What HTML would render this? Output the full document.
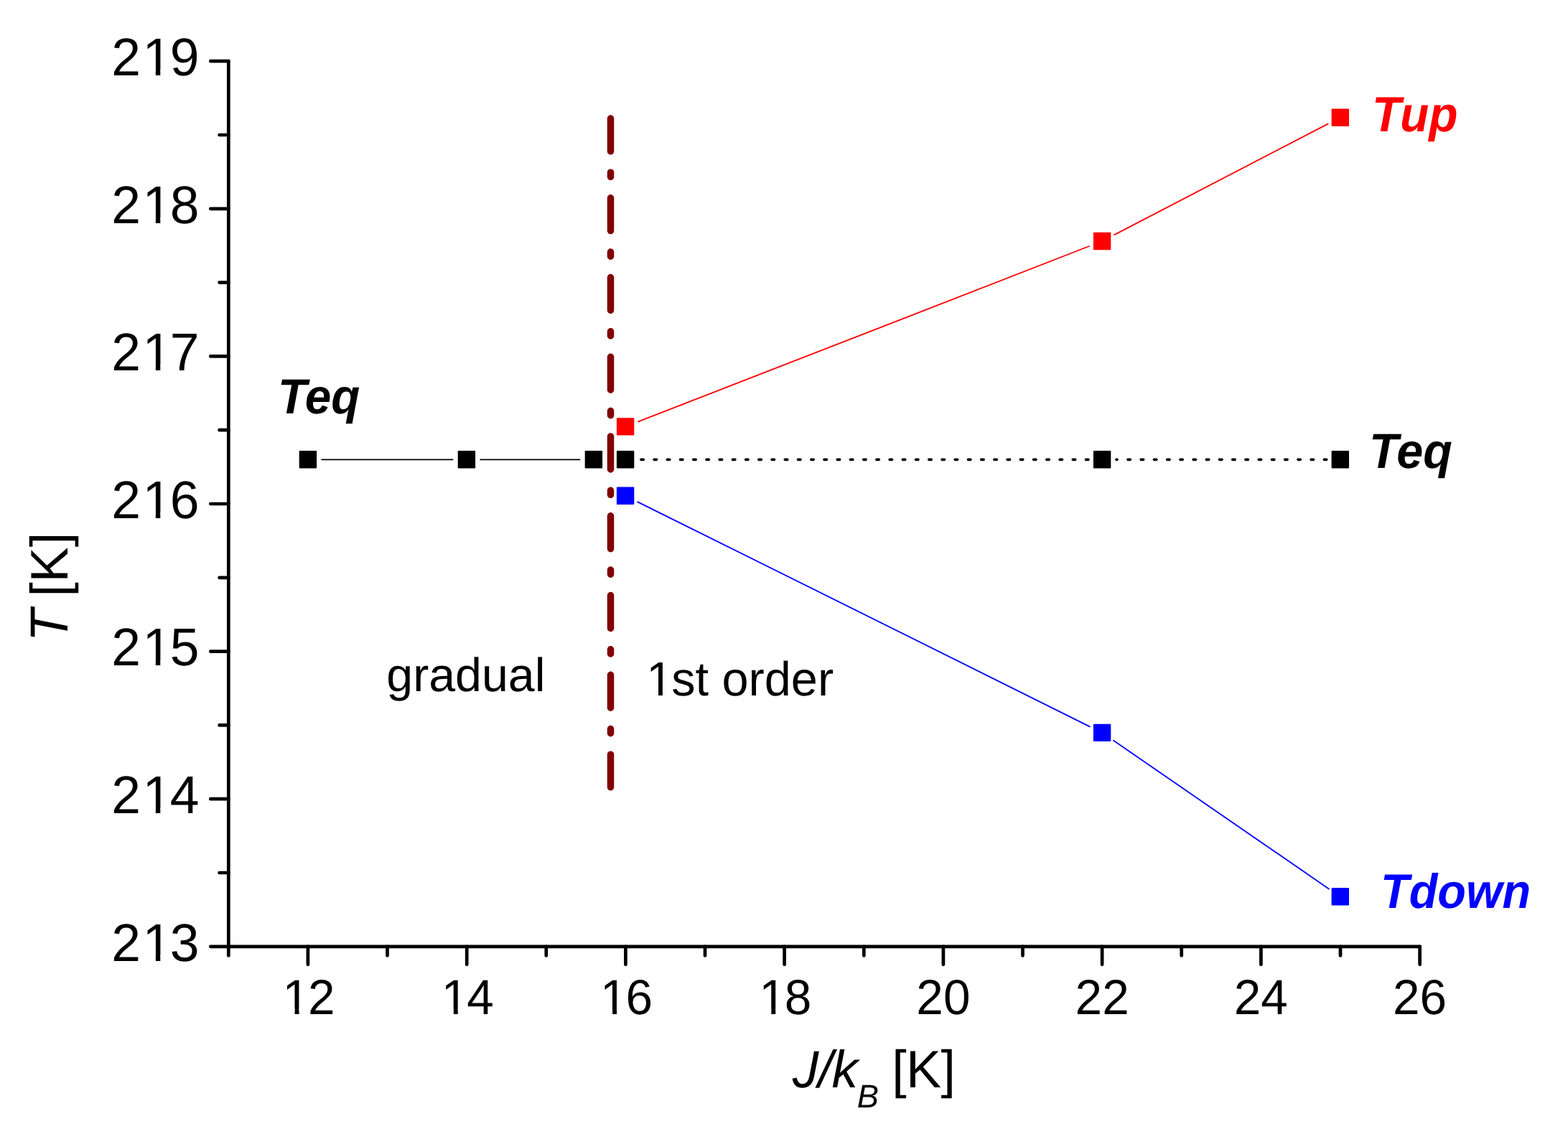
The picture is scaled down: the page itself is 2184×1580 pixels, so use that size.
<!DOCTYPE html>
<html><head><meta charset="utf-8"><title>Phase diagram</title>
<style>
html,body{margin:0;padding:0;background:#fff;}
body{width:2184px;height:1580px;overflow:hidden;}
svg{display:block;}
text{font-family:"Liberation Sans",sans-serif;text-rendering:geometricPrecision;}
.yt{font-size:73px;fill:#000;}
.xt{font-size:67.5px;fill:#000;}
.lbl{font-size:67.5px;font-weight:bold;font-style:italic;}
.reg{font-size:67.5px;fill:#000;}
.ttl{font-size:73px;fill:#000;}
.it{font-style:italic;}
.sub{font-size:43.8px;font-style:italic;}
</style></head><body>
<svg width="2184" height="1580" viewBox="0 0 2184 1580">
<rect width="2184" height="1580" fill="#fff"/>
<g stroke="#000" stroke-width="4.7" stroke-linecap="round" stroke-linejoin="round" fill="none">
<path d="M318.3 85.2 V1318.8 H1977.6"/>
<path d="M318.3 1318.8 h-25 M318.3 1216.0 h-12.7 M318.3 1113.2 h-25 M318.3 1010.4 h-12.7 M318.3 907.6 h-25 M318.3 804.8 h-12.7 M318.3 702.0 h-25 M318.3 599.2 h-12.7 M318.3 496.4 h-25 M318.3 393.6 h-12.7 M318.3 290.8 h-25 M318.3 188.0 h-12.7 M318.3 85.2 h-25 M318.3 1318.8 v12.7 M428.9 1318.8 v25 M539.5 1318.8 v12.7 M650.2 1318.8 v25 M760.8 1318.8 v12.7 M871.4 1318.8 v25 M982.0 1318.8 v12.7 M1092.6 1318.8 v25 M1203.3 1318.8 v12.7 M1313.9 1318.8 v25 M1424.5 1318.8 v12.7 M1535.1 1318.8 v25 M1645.7 1318.8 v12.7 M1756.4 1318.8 v25 M1867.0 1318.8 v12.7 M1977.6 1318.8 v25"/>
</g>
<defs><clipPath id="c1y"><path clip-rule="evenodd" d="M-400 -200H400V200H-400ZM-74.83 -7.45H-60.44V2.00H-74.83ZM-53.98 -7.45H-40.16V2.00H-53.98Z"/></clipPath><clipPath id="c1x"><path clip-rule="evenodd" d="M-400 -200H400V200H-400ZM-31.77 -7.04H-18.34V2.00H-31.77ZM-12.38 -7.04H0.53V2.00H-12.38Z"/></clipPath><clipPath id="c1f"><path clip-rule="evenodd" d="M-400 -200H400V200H-400ZM5.77 -7.04H19.20V2.00H5.77ZM25.16 -7.04H38.07V2.00H25.16Z"/></clipPath><clipPath id="cJ"><path clip-rule="evenodd" d="M1000 1400H1400V1580H1000Z M1120.57 1471.64 L1132.69 1471.64 L1134.23 1462.78 L1121.64 1462.78Z"/></clipPath></defs>
<text class="yt" dx="0 2.41 -2.41" transform="translate(277.50,1338.50) scale(1.0040,1.0180)" text-anchor="end" clip-path="url(#c1y)">213</text>
<text class="yt" dx="0 2.41 -2.41" transform="translate(277.50,1132.90) scale(1.0040,1.0180)" text-anchor="end" clip-path="url(#c1y)">214</text>
<text class="yt" dx="0 2.41 -2.41" transform="translate(277.50,927.30) scale(1.0040,1.0180)" text-anchor="end" clip-path="url(#c1y)">215</text>
<text class="yt" dx="0 2.41 -2.41" transform="translate(277.50,721.70) scale(1.0040,1.0180)" text-anchor="end" clip-path="url(#c1y)">216</text>
<text class="yt" dx="0 2.41 -2.41" transform="translate(277.50,516.10) scale(1.0040,1.0180)" text-anchor="end" clip-path="url(#c1y)">217</text>
<text class="yt" dx="0 2.41 -2.41" transform="translate(277.50,310.50) scale(1.0040,1.0180)" text-anchor="end" clip-path="url(#c1y)">218</text>
<text class="yt" dx="0 2.41 -2.41" transform="translate(277.50,104.90) scale(1.0040,1.0180)" text-anchor="end" clip-path="url(#c1y)">219</text>
<text class="xt" x="-37.54" dx="2.22 -2.22" transform="translate(428.92,1413.00) scale(1.0000,1.0200)" clip-path="url(#c1x)">12</text>
<text class="xt" x="-37.54" dx="2.22 -2.22" transform="translate(650.16,1413.00) scale(1.0000,1.0200)" clip-path="url(#c1x)">14</text>
<text class="xt" x="-37.54" dx="2.22 -2.22" transform="translate(871.40,1413.00) scale(1.0000,1.0200)" clip-path="url(#c1x)">16</text>
<text class="xt" x="-37.54" dx="2.22 -2.22" transform="translate(1092.64,1413.00) scale(1.0000,1.0200)" clip-path="url(#c1x)">18</text>
<text class="xt" x="-37.54" transform="translate(1313.88,1413.00) scale(1.0000,1.0200)">20</text>
<text class="xt" x="-37.54" transform="translate(1535.12,1413.00) scale(1.0000,1.0200)">22</text>
<text class="xt" x="-37.54" transform="translate(1756.36,1413.00) scale(1.0000,1.0200)">24</text>
<text class="xt" x="-37.54" transform="translate(1977.60,1413.00) scale(1.0000,1.0200)">26</text>
<text class="ttl" transform="translate(94.08,0) rotate(-90)"><tspan class="it" x="-894.16" style="font-size:74.46px">T</tspan><tspan style="font-size:73.50px" x="-852.00 -831.47 -811.50 -762.33"> [K]</tspan></text>
<text class="ttl" y="1515.00" clip-path="url(#cJ)"><tspan class="it" x="1103.71 1139.42 1158.45">J/k</tspan><tspan class="it" x="1193.87" y="1543.00" style="font-size:45.30px">B</tspan><tspan style="font-size:73.50px" y="1515.00" x="1226.00 1242.30 1262.10 1310.40"> [K]</tspan></text>
<path d="M850.5 165.05 V1096.8" stroke="#800000" stroke-width="9.5" stroke-linecap="round" stroke-dasharray="45.8 29.38 6.2 29.38" fill="none"/>
<line x1="448.2" y1="640.3" x2="630.6" y2="640.3" stroke="#000" stroke-width="1.85" stroke-linecap="round"/>
<line x1="669.2" y1="640.3" x2="807.6" y2="640.3" stroke="#000" stroke-width="1.85" stroke-linecap="round"/>
<g stroke="#000" stroke-width="3.65" stroke-linecap="round" fill="none">
<path d="M892.83 640.3 H1516" stroke-dasharray="3.45 14.775"/>
<path d="M1555 640.3 H1556"/>
<path d="M1570.93 640.3 H1851" stroke-dasharray="3.45 14.775"/>
</g>
<line x1="889.1" y1="587.4" x2="1517.1" y2="343.0" stroke="#f00" stroke-width="1.85" stroke-linecap="round"/>
<line x1="888.3" y1="699.3" x2="1517.8" y2="1012.3" stroke="#00f" stroke-width="1.85" stroke-linecap="round"/>
<line x1="1552.2" y1="327.1" x2="1849.6" y2="172.6" stroke="#f00" stroke-width="1.85" stroke-linecap="round"/>
<line x1="1551.0" y1="1031.8" x2="1850.9" y2="1238.4" stroke="#00f" stroke-width="1.85" stroke-linecap="round"/>
<rect x="416.7" y="628.1" width="24.4" height="24.4" rx="1" fill="#000"/>
<rect x="637.7" y="628.1" width="24.4" height="24.4" rx="1" fill="#000"/>
<rect x="814.7" y="628.1" width="24.4" height="24.4" rx="1" fill="#000"/>
<rect x="858.9" y="628.1" width="24.4" height="24.4" rx="1" fill="#000"/>
<rect x="1522.9" y="628.1" width="24.4" height="24.4" rx="1" fill="#000"/>
<rect x="1854.6" y="628.1" width="24.4" height="24.4" rx="1" fill="#000"/>
<rect x="858.9" y="582.2" width="24.4" height="24.4" rx="1" fill="#f00"/>
<rect x="1522.9" y="323.8" width="24.4" height="24.4" rx="1" fill="#f00"/>
<rect x="1854.6" y="151.5" width="24.4" height="24.4" rx="1" fill="#f00"/>
<rect x="858.9" y="678.5" width="24.4" height="24.4" rx="1" fill="#00f"/>
<rect x="1522.9" y="1008.7" width="24.4" height="24.4" rx="1" fill="#00f"/>
<rect x="1854.6" y="1237.1" width="24.4" height="24.4" rx="1" fill="#00f"/>
<text class="lbl" transform="translate(387.03,575.80) scale(0.9724,1.0200)" fill="#000">Teq</text>
<text class="lbl" transform="translate(1907.08,651.90) scale(0.9840,1.0200)" fill="#000">Teq</text>
<text class="lbl" transform="translate(1910.93,183.00) scale(0.9767,1.0250)" fill="#f00">Tup</text>
<text class="lbl" transform="translate(1923.09,1265.00) scale(0.9609,1.0000)" fill="#00f">Tdown</text>
<text class="reg" transform="translate(538.29,962.60) scale(0.9820,0.9750)">gradual</text>
<text class="reg" dx="2.22 -2.22" transform="translate(898.06,969.30) scale(0.9876,0.9900)" clip-path="url(#c1f)">1st order</text>
</svg>
</body></html>
